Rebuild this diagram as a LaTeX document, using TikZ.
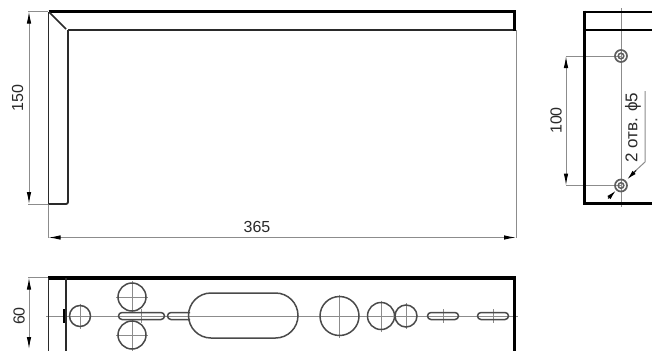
\documentclass[tikz,border=0pt]{standalone}
\usepackage{fontspec}
\setmainfont{Liberation Sans}
\usetikzlibrary{arrows.meta}
\definecolor{dimc}{HTML}{8C8C8C}
\definecolor{inkc}{HTML}{2A2A2A}
\tikzset{
  thin part/.style={draw=inkc,line width=1.5pt},
  mid part/.style={draw=inkc,line width=1.8pt},
  thick part/.style={draw=black,line width=3.4pt},
  hole/.style={draw=inkc!85,line width=1.5pt},
  axis/.style={draw=dimc,line width=1pt},
  dimline/.style={draw=dimc,line width=1pt},
  dimtip/.style={{Latex[length=12pt,width=4.5pt,black]}-{Latex[length=12pt,width=4.5pt,black]}},
  lbl/.style={text=inkc,font=\fontsize{16}{18}\selectfont,inner sep=0pt},
}
\begin{document}
\begin{tikzpicture}[x=1pt,y=-1pt]
\useasboundingbox (0,0) rectangle (652,351);
\fill[white] (0,0) rectangle (652,351);
% front view
\draw[dimline] (28,11.5) -- (48,11.5) (28,204) -- (48,204);
\draw[dimline] (48.5,204) -- (48.5,238) (516,30) -- (516,238);
\draw[dimline,dimtip] (29,11.5) -- (29,204);
\draw[dimline,dimtip] (48.5,237.5) -- (516,237.5);
\draw[mid part] (48.5,204) -- (48.5,11.5);
\draw[line width=2.2pt,draw=black] (48.5,11.5) -- (515,11.5);
\draw[thin part] (68,30) -- (515,30);
\draw[thick part] (514.5,10.4) -- (514.5,31);
\draw[mid part,rounded corners=2pt] (48.5,204) -- (68,204) -- (68,30);
\draw[thin part] (49,12) -- (66,29);
\node[lbl,rotate=90] (t150) at (17.5,98) {150};
\node[lbl] (t365) at (257,227) {365};
% side view
\draw[dimline] (566,56) -- (621,56) (566,185.5) -- (621,185.5);
\draw[dimline,dimtip] (566,56) -- (566,185.5);
\draw[axis] (621,8) -- (621,207);
\draw[draw=black,line width=2pt] (584,11.5) -- (652,11.5);
\draw[draw=black,line width=2pt] (584,30) -- (652,30);
\draw[draw=black,line width=3.4pt] (584.5,10.5) -- (584.5,203.5) -- (652,203.5);
\foreach \n/\yy in {ha/56,hb/185.5}{
  \draw[draw=inkc!75,line width=1.7pt] (621,\yy) circle[radius=6];
  \draw[draw=inkc!75,line width=1.5pt] (621,\yy) circle[radius=2.8];
}
\coordinate (la) at (645,91);
\coordinate (lb) at (645,162);
\draw[dimline] (la) -- (lb) -- (632,174);
\draw[line width=1.2pt,draw=inkc,-{Latex[length=10pt,width=4.5pt,black]}] (636,170.5) -- (627,179.5);
\draw[line width=1.2pt,draw=inkc,-{Latex[length=10pt,width=4.5pt,black]}] (608,198.5) -- (616,190.5);
\node[lbl,rotate=90] (t100) at (556,120.5) {100};
\node[lbl,rotate=90,anchor=west,font=\fontsize{17}{19}\selectfont] (thole) at (633,163) {2 отв. ϕ5};
% plan view
\draw[dimline] (28,277.5) -- (48,277.5);
\draw[dimline,dimtip] (29,277.5) -- (29,349);
\draw[axis] (46,316) -- (518,316);
\foreach \xx/\yy/\rr in {80/316/10.5,132/297/14,132/335/14,339.5/316/19.5,381/316/13.5,406/316/11}{
  \draw[axis] (\xx,\yy-\rr-2) -- (\xx,\yy+\rr+2);
  \draw[axis] (\xx-\rr-2,\yy) -- (\xx+\rr+2,\yy);
  \draw[hole] (\xx,\yy) circle[radius=\rr];
}
\draw[axis] (141,309) -- (141,323);
\draw[axis] (443,309) -- (443,323) (493,309) -- (493,323);
\draw[draw=black,line width=3.4pt] (48,278) -- (516,278);
\draw[draw=black,line width=3.4pt] (514.5,278) -- (514.5,351);
\draw[mid part] (48.5,278) -- (48.5,351);
\draw[mid part] (66,278) -- (66,351);
\draw[draw=black,line width=2.6pt] (64,309) -- (64,323);
\draw[hole] (122,312.5) -- (161,312.5) arc[start angle=-90,end angle=90,radius=3.5] -- (122,319.5) arc[start angle=90,end angle=270,radius=3.5] -- cycle;
\draw[hole] (190,312.5) -- (171,312.5) arc[start angle=270,end angle=90,radius=3.5] -- (190,319.5);
\draw[hole] (211,293) -- (275.5,293) arc[start angle=-90,end angle=90,radius=22.5] -- (211,338) arc[start angle=90,end angle=270,radius=22.5] -- cycle;
\draw[hole] (431,312.5) -- (455,312.5) arc[start angle=-90,end angle=90,radius=3.5] -- (431,319.5) arc[start angle=90,end angle=270,radius=3.5] -- cycle;
\draw[hole] (481,312.5) -- (505,312.5) arc[start angle=-90,end angle=90,radius=3.5] -- (481,319.5) arc[start angle=90,end angle=270,radius=3.5] -- cycle;
\node[lbl,rotate=90] (t60) at (19,316) {60};
\end{tikzpicture}
\end{document}
